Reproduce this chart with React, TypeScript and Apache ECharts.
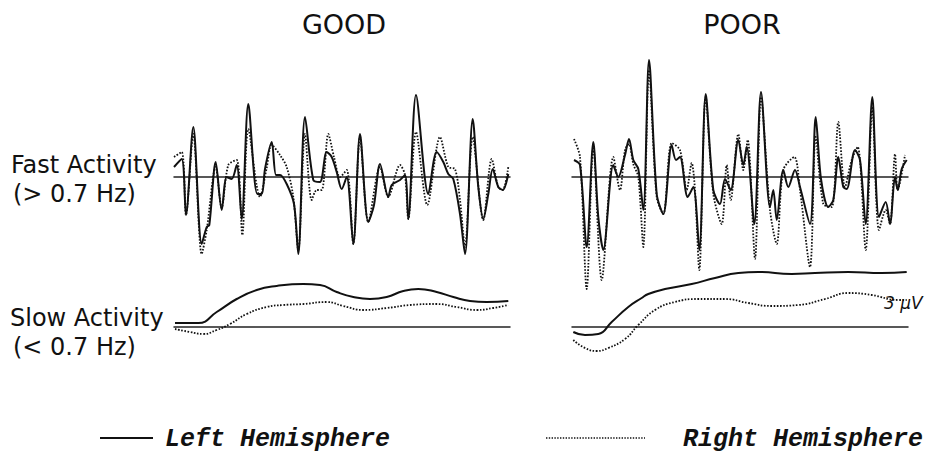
import React, { useEffect, useRef } from "react";
import * as echarts from "echarts";

// time (relative sample position across the epoch) and amplitude pairs
const goodFastLeft: [number, number][] = [[0,1.0],[7.7,1.8],[12,-3.8],[19.3,5.0],[27.7,-6.7],[32.7,-5.0],[35.3,-4.8],[41.7,1.5],[47.7,-3.3],[52.7,0],[57.7,-0.2],[62.7,1.2],[67.7,-4.2],[74.3,7.3],[83.3,-1.7],[87.7,-1.7],[91,0.8],[97.7,3.5],[102,0.2],[106,0.2],[112.7,-0.7],[120,-2.7],[124.3,-7.7],[131,6.0],[139.3,-0.3],[146,-0.5],[152.7,2.5],[157.7,2.0],[162.7,0.5],[167.7,-1.2],[172.7,0],[179.3,-6.7],[186,4.3],[194.3,-4.5],[200,-2.8],[206,1.3],[214.3,-2.0],[217.7,-0.8],[226,-0.3],[231,0.2],[234.3,-4.2],[242,8.2],[254.3,-1.7],[262.7,2.5],[269.3,1.5],[274.3,0.3],[279.3,-0.2],[286,-3.7],[291,-7.7],[298.7,5.8],[304.3,-1.0],[309.3,-4.2],[314.3,-1.7],[318.7,0.8],[324.3,-1.0],[328.7,-1.3],[334.3,0.3]];
const goodFastRight: [number, number][] = [[0,2.0],[7.7,2.5],[12,-3.8],[19.3,4.3],[27.7,-7.7],[32.7,-5.3],[41.7,1.0],[47.7,-3.1],[54.3,1.2],[62.7,1.7],[68.3,-5.8],[74.3,4.8],[86,-2.0],[92.7,0.9],[97.7,3.2],[106,2.2],[112.7,1.0],[119.3,-2.0],[124.3,-7.3],[131,4.3],[137.7,-2.3],[142.7,-1.3],[147.7,-1.3],[154.3,4.3],[160,2.0],[166,0],[172.7,0.7],[179.3,-6.7],[186,4.0],[194.3,-4.5],[206,1.0],[214.3,-2.0],[226,1.2],[231,0.2],[234.3,-4.2],[242,4.5],[253.3,-2.8],[266,4.0],[274.3,1.0],[281,0.8],[286,-2.3],[291,-7.0],[298.7,4.0],[309.3,-4.3],[317.7,1.8],[324.3,-1.0],[328.7,-1.3],[334.3,1.0]];
const poorFastLeft: [number, number][] = [[2,1.7],[8,1.2],[14.7,-7.0],[21.3,3.5],[26.3,-4.0],[31.3,-7.3],[41.3,1.2],[46.3,0],[53,2.2],[57,3.8],[61.3,1.7],[66.3,0.8],[71.3,-3.3],[77,11.7],[84.7,-1.7],[91.3,-3.7],[99.7,3.2],[104,1.7],[108,2.0],[115.7,-2.0],[121.3,-1.0],[127.3,-7.3],[133.7,8.3],[141.3,-1.3],[148,-2.7],[153,-0.2],[158.7,-1.3],[166.3,3.7],[171.3,1.2],[174.7,3.0],[182.3,-4.7],[189,8.5],[198,-3.0],[201.3,-1.3],[204.7,-4.3],[211.3,0.7],[216.3,-1.0],[223,0.7],[228,-1.0],[238,-4.7],[243.7,6.0],[249,-0.2],[256.3,-3.0],[261.3,-2.3],[266.3,2.0],[271.3,-1.0],[274.7,-1.2],[283,2.7],[288,1.7],[293.7,-4.7],[300.3,8.0],[307,-4.0],[313.7,-2.5],[318,-4.7],[323,0],[325.7,-1.3],[329.7,0.8],[334.7,1.7]];
const poorFastRight: [number, number][] = [[2,3.8],[8,2.0],[14.7,-11.2],[21.3,3.0],[29.7,-10.3],[41.3,2.0],[48,-1.3],[53,2.7],[57,3.3],[61.3,1.3],[66.3,0],[71.3,-7.0],[77,10.7],[84.7,-2.0],[91.3,-3.7],[99.7,3.4],[108,2.7],[114.7,-1.3],[119.7,1.4],[123,-1.3],[127.3,-9.3],[133.7,8.0],[141.3,-1.7],[149.7,-4.7],[154.7,1.2],[158.7,-2.3],[166.3,4.3],[171.3,0.7],[175.7,3.7],[183,-8.2],[189,8.0],[198,-3.3],[204.7,-6.7],[211.3,0.7],[222.3,2.0],[228,-1.3],[238,-9.0],[243.7,4.0],[251.3,-2.7],[259.7,-3.0],[266.3,5.5],[273,-1.0],[279.7,1.7],[285.7,3.0],[293.7,-7.3],[300.3,7.0],[307,-5.3],[313.7,-3.3],[318,-4.7],[323,2.3],[325.7,-1.3],[333,2.2]];
const goodSlowLeft: [number, number][] = [[1,0.4],[24.3,0.4],[42.7,1.5],[62.7,2.8],[82.7,3.7],[102.7,4.1],[129.3,4.3],[146,4.2],[162.7,3.5],[179.3,3.0],[196,2.8],[212.7,3.0],[229.3,3.6],[244.3,3.8],[262.7,3.5],[279.3,3.0],[296,2.6],[312.7,2.5],[334.3,2.6]];
const goodSlowRight: [number, number][] = [[1,-0.2],[16,-0.5],[29.3,-0.7],[42.7,-0.3],[56,0.3],[72.7,1.3],[92.7,2.0],[109.3,2.2],[129.3,2.3],[152.7,2.5],[169.3,2.1],[189.3,1.7],[212.7,1.9],[236,2.2],[262.7,2.3],[282.7,2.0],[302.7,1.7],[319.3,1.9],[334.3,2.2]];
const poorSlowLeft: [number, number][] = [[1.3,-0.5],[13,-0.8],[26.3,-0.7],[39.7,0.5],[56.3,2.0],[69.7,2.9],[76.3,3.3],[93,3.8],[119.7,4.3],[143,4.9],[166.3,5.4],[186.3,5.5],[219.7,5.3],[243,5.4],[276.3,5.5],[309.7,5.4],[334.7,5.5]];
const poorSlowRight: [number, number][] = [[1.3,-1.3],[13,-2.1],[24.7,-2.4],[36.3,-2.1],[53,-1.2],[66.3,0.2],[83,1.7],[103,2.5],[126.3,2.8],[153,2.8],[176.3,2.4],[199.7,2.1],[226.3,2.2],[253,2.8],[276.3,3.4],[299.7,3.2],[326.3,2.7],[334.7,2.7]];

const groupTitles = ["GOOD", "POOR"];
const rowLabels = [["Fast Activity", "(> 0.7 Hz)"], ["Slow Activity", "(< 0.7 Hz)"]];
const legendNames = ["Left Hemisphere", "Right Hemisphere"];
const scaleLabel = "3 μV";

const INK = "#111";

export default function App() {
  const ref = useRef<HTMLDivElement>(null);
  useEffect(() => {
    if (!ref.current) return;
    const chart = echarts.init(ref.current, null, { renderer: "svg" });
    const grids = [
      { left: 174, top: 37, width: 336, height: 280 },
      { left: 572, top: 37, width: 336, height: 280 },
      { left: 174, top: 247, width: 336, height: 160 },
      { left: 572, top: 247, width: 336, height: 160 },
    ];
    const yRanges = [14, 14, 8, 8];
    const xAxis = grids.map((_, i) => ({
      type: "value" as const,
      gridIndex: i,
      min: 0,
      max: 336,
      axisLine: { show: true, onZero: true, lineStyle: { color: "#222", width: 1.5 } },
      axisTick: { show: false },
      axisLabel: { show: false },
      splitLine: { show: false },
    }));
    const yAxis = grids.map((_, i) => ({
      type: "value" as const,
      gridIndex: i,
      min: -yRanges[i],
      max: yRanges[i],
      show: false,
      splitLine: { show: false },
    }));
    const mk = (data: [number, number][], idx: number, dotted: boolean, smooth: number) => ({
      type: "line" as const,
      xAxisIndex: idx,
      yAxisIndex: idx,
      data,
      symbol: "none",
      smooth,
      clip: false,
      lineStyle: dotted
        ? { color: INK, width: 1.8, type: [1.6, 1.6] as any }
        : { color: INK, width: 2, type: "solid" as const },
      z: dotted ? 2 : 3,
    });
    const txt = (text: string, x: number, y: number, size: number, family: string, align: string, extra: any = {}) => ({
      type: "text",
      x,
      y,
      style: {
        text,
        x: 0,
        y: 0,
        fill: INK,
        fontSize: size,
        fontFamily: family,
        fontStyle: extra.italic ? "italic" : "normal",
        fontWeight: extra.bold ? "bold" : "normal",
        textAlign: align,
        align,
        textVerticalAlign: "middle",
        verticalAlign: "middle",
      },
    });
    const graphic: any[] = [
      txt(groupTitles[0], 344, 24, 27, "DejaVu Sans", "center"),
      txt(groupTitles[1], 742, 24, 27, "DejaVu Sans", "center"),
      txt(rowLabels[0][0], 11, 165, 24, "DejaVu Sans", "left"),
      txt(rowLabels[0][1], 13, 194, 24, "DejaVu Sans", "left"),
      txt(rowLabels[1][0], 10, 318, 24, "DejaVu Sans", "left"),
      txt(rowLabels[1][1], 13, 347, 24, "DejaVu Sans", "left"),
      {
        type: "line",
        shape: { x1: 100, y1: 438, x2: 153, y2: 438 },
        style: { stroke: INK, lineWidth: 2 },
      },
      {
        type: "line",
        shape: { x1: 546, y1: 438, x2: 645, y2: 438 },
        style: { stroke: INK, lineWidth: 1.6, lineDash: [1.4, 1.4] },
      },
      txt(legendNames[0], 165, 439, 25, "Liberation Mono", "left", { italic: true, bold: true }),
      txt(legendNames[1], 683, 439, 25, "Liberation Mono", "left", { italic: true, bold: true }),
      txt(scaleLabel, 884, 303, 17, "DejaVu Sans", "left", { italic: true }),
    ];
    chart.setOption({
      animation: false,
      backgroundColor: "#fff",
      grid: grids,
      xAxis,
      yAxis,
      series: [
        mk(goodFastRight, 0, true, 0.3),
        mk(goodFastLeft, 0, false, 0.3),
        mk(poorFastRight, 1, true, 0.3),
        mk(poorFastLeft, 1, false, 0.3),
        mk(goodSlowRight, 2, true, 0.5),
        mk(goodSlowLeft, 2, false, 0.5),
        mk(poorSlowRight, 3, true, 0.5),
        mk(poorSlowLeft, 3, false, 0.5),
      ],
      graphic,
    });
    return () => chart.dispose();
  }, []);
  return (
    <div
      ref={ref}
      style={{ position: "fixed", left: 0, top: 0, width: 928, height: 466, background: "#fff" }}
    />
  );
}
